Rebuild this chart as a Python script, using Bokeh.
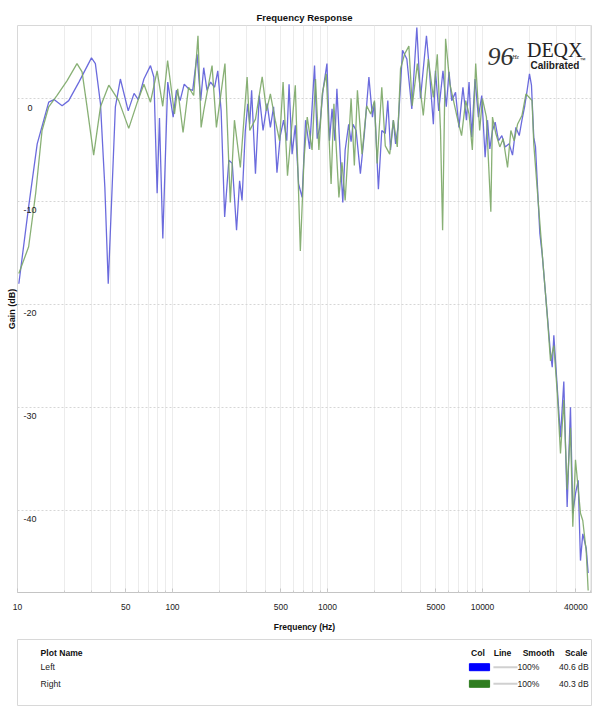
from bokeh.plotting import figure
from bokeh.layouts import column
from bokeh.models import Range1d, FixedTicker, NumeralTickFormatter, Title
from bokeh.core.properties import value
from bokeh.embed import file_html
from bokeh.resources import INLINE

# ---------------- data ----------------
freq_left = [10.2, 11.8, 13.4, 15.9, 17.2, 19.4, 21.4, 24.9, 30.0, 31.8, 34.3, 36.6, 38.5, 40.8,
             42.8, 46.1, 51.8, 56.5, 60.1, 65.4, 72.1, 75.8, 79.6, 82.4, 86.6, 93.2, 101, 106,
             112, 119, 127, 135, 144, 152, 159, 167, 176, 187, 196, 206, 217, 231, 243, 259,
             271, 281, 295, 306, 315, 324, 343, 363, 384, 408, 428, 449, 472, 496, 521, 546,
             565, 591, 620, 651, 686, 722, 767, 825, 858, 891, 935, 992, 1030, 1070, 1115,
             1150, 1210, 1255, 1300, 1370, 1420, 1460, 1530, 1630, 1730, 1850, 1950, 2010,
             2130, 2240, 2360, 2450, 2550, 2660, 2750, 2850, 3050, 3250, 3500, 3770, 3980,
             4350, 4510, 4820, 4970, 5220, 5560, 5840, 6080, 6330, 6700, 7050, 7480, 7880,
             8190, 8520, 8950, 9410, 9890, 10400, 10770, 11150, 11600, 12070, 12690, 13330,
             14000, 14860, 15620, 16420, 17260, 17970, 18740, 19410, 20100, 20700, 21420,
             21980, 22870, 23440, 24270, 26140, 27470, 28180, 28860, 30340, 31860, 33470,
             35170, 36950, 38250, 39810, 41440, 42870, 44360, 46690, 48060]
gain_left = [-18.0, -10.5, -4.4, -0.35, -0.1, -0.7, -0.2, 1.6, 3.95, 3.4, -0.5, -8.6, -18.0, -8.6,
             -0.8, 1.9, -1.2, 0.5, -0.1, 1.9, 3.2, 2.1, -9.2, -1.9, -13.6, 1.6, -1.8, 0.8,
             -0.2, 1.4, 0.95, 0.8, 4.3, -0.2, 3.0, 0.8, 1.6, 1.1, 2.7, -1.2, -11.5, -6.0, -6.3, -12.8,
             -8.0, -9.9, -3.1, -0.5, -2.5, 0.8, -7.3, 0.3, -3.1, -0.5, -2.8, -0.8, -7.2, -3.6, -2.1, -4.1,
             1.4, -5.4, -2.6, -8.3, -9.6, -2.1, -4.9, 3.2, -3.9, -2.8, 0.8, 3.4, -4.1, -1.0, -4.1,
             0.95, -5.7, -10.1, -5.0, -2.5, -4.2, -2.5, -3.1, -7.3, -3.4, 2.1, -1.8, -0.35,
             -8.8, -3.1, -3.4, -0.2, -5.0, -2.1, -4.4, -2.8, 4.7, 3.85, -1.0, 6.9, 0.0,
             6.1, 3.4, -2.5, 2.7, -1.2, 2.7, -0.8, 2.6, -0.2, 0.6, -2.8, 1.1, -2.1,
             1.6, -3.75, 1.9, -1.8, 0.3, -5.7, -2.1, -4.9, -3.1, -2.3, -4.1, -3.6,
             -4.7, -4.4, -5.5, -2.8, -3.6, -2.1, -0.7, 0.8, 2.4, 1.3, -3.75,
             -4.7, -9.9, -13.1, -15.1, -20.9, -24.8, -26.1, -23.0, -28.0, -32.9, -27.5,
             -39.7, -30.0, -40.3, -38.4, -37.1, -44.9, -42.3, -43.7, -46.1]

freq_right = [10.2, 11.8, 13.1, 14.4, 15.9, 18.0, 20.9, 24.2, 26.1, 28.1, 31.0, 34.3, 38.8, 45.0,
              52.2, 59.3, 65.4, 72.1, 79.6, 86.5, 93, 103, 108, 117, 127, 137, 146, 153, 159,
              180, 192, 218, 236, 251, 274, 303, 315, 343, 379, 404, 428, 460, 491, 517, 552,
              620, 668, 705, 740, 795, 837, 880, 925, 982, 1055, 1100, 1185, 1240, 1300, 1370,
              1420, 1490, 1560, 1670, 1790, 1900, 2010, 2090, 2240, 2360, 2520, 2660, 2820,
              2960, 3140, 3350, 3520, 3800, 4150, 4470, 4820, 5110, 5360, 5530, 5780, 6160,
              6860, 7330, 7790, 8190, 8600, 9040, 9590, 9990, 10600, 11320, 11600, 12190,
              12940, 13590, 14510, 15240, 16010, 16830, 17970, 19080, 20040, 20870, 21420,
              22870, 24270, 26140, 27470, 28860, 30340, 31860, 33470, 35170, 36950, 38250,
              39810, 42870, 44360, 46690, 48060]
gain_right = [-17.0, -14.4, -9.2, -3.1, -0.8, 0.3, 1.75, 3.4, 2.6, -0.8, -5.5, -0.8, 1.3, -0.2,
              -2.9, -0.35, 1.4, -0.35, 2.7, -0.75, 3.7, -1.5, 0.95, -3.3, 1.1, 0.3, 6.1, -2.8, -1.2,
              3.2, -2.8, 3.4, -10.1, -2.1, -6.7, 2.1, -3.1, -2.0, 2.1, -1.2, 0.45, -2.1, -4.1, 1.6, -7.5,
              1.3, -14.8, -6.0, -1.8, -5.0, 1.9, -5.0, 0.45, 2.4, -8.3, -0.5, -9.6, -6.2, -9.9, -4.1,
              0.0, -6.5, 0.8, -5.4, -0.7, -1.5, -0.2, -6.3, 1.1, -4.6, -5.4, -2.1, -4.7,
              2.9, 4.3, 5.1, -0.7, 3.4, -1.65, 3.85, 0.1, 4.3, -3.1, -12.8, 5.8, 1.4,
              -1.8, -3.6, -0.2, -1.5, -5.0, 3.4, -3.1, 0.0, -1.8, -11.0, -1.8, -3.4,
              -4.7, -3.9, -6.7, -3.1, -4.1, -2.5, -1.65, 0.45, 0.1, -0.2, -4.4,
              -10.0, -15.0, -21.0, -25.5, -24.0, -28.5, -34.5, -29.3, -38.0, -32.0, -41.6,
              -35.1, -40.3, -41.0, -44.0, -47.8]

x_tick_values = [10, 50, 100, 500, 1000, 5000, 10000, 40000]
y_tick_values = [0, -10, -20, -30, -40]
y_tick_labels = ["0", "-10", "-20", "-30", "-40"]

legend_names = ["Left", "Right"]
legend_colors = ["#0000ff", "#2f7d20"]
legend_smooth = ["100%", "100%"]
legend_scale = ["40.6 dB", "40.3 dB"]
legend_headers = ["Col", "Line", "Smooth", "Scale"]

# ---------------- styling ----------------
SANS = "Liberation Sans"
W = 608
MAIN_H = 639
X_START, X_END = 10, 50500
Y_START, Y_END = -48.0, 7.1

p = figure(width=W, height=MAIN_H, x_axis_type="log",
           x_range=Range1d(X_START, X_END), y_range=Range1d(Y_START, Y_END),
           output_backend="svg", toolbar_location=None,
           min_border_left=17, min_border_right=17, min_border_top=25, min_border_bottom=47)
p.background_fill_color = "white"
p.border_fill_color = "white"
p.outline_line_color = "#d8d8d8"

p.title.text = "Frequency Response"
p.title.align = "center"
p.title.text_font = SANS
p.title.text_font_size = "9.5px"
p.title.text_font_style = "bold"
p.title.text_color = "#111111"
p.title.standoff = 6

p.add_layout(Title(text="Gain (dB)", align="center", text_font=SANS,
                   text_font_size="9px", text_font_style="bold",
                   text_color="#111111", standoff=2), "left")

grid_vals = [m * 10 ** d for d in range(1, 5) for m in range(1, 10)]
grid_vals = [g for g in grid_vals if g <= X_END]

p.xgrid.ticker = FixedTicker(ticks=grid_vals)
p.xgrid.grid_line_color = "#ececec"
p.ygrid.ticker = FixedTicker(ticks=y_tick_values)
p.ygrid.grid_line_color = "#d6d6d6"
p.ygrid.grid_line_dash = "2 2"

p.yaxis.visible = False

ax = p.xaxis[0]
ax.ticker = FixedTicker(ticks=x_tick_values, minor_ticks=grid_vals)
ax.formatter = NumeralTickFormatter(format="0")
ax.axis_line_color = "#c4c4c4"
ax.major_tick_line_color = "#c4c4c4"
ax.minor_tick_line_color = "#cccccc"
ax.major_tick_in = 4
ax.major_tick_out = 0
ax.minor_tick_in = 2
ax.minor_tick_out = 0
ax.major_label_text_font = SANS
ax.major_label_text_font_size = "8.5px"
ax.major_label_text_color = "#222222"
ax.major_label_standoff = 11
ax.axis_label = "Frequency (Hz)"
ax.axis_label_text_font = SANS
ax.axis_label_text_font_size = "8.5px"
ax.axis_label_text_font_style = "bold"
ax.axis_label_text_color = "#111111"
ax.axis_label_standoff = 9

# curves
p.line(freq_left, gain_left, line_color="#5b5bd9", line_width=1.3, line_alpha=0.9)
p.line(freq_right, gain_right, line_color="#7ba766", line_width=1.3, line_alpha=0.9)

# y tick labels drawn inside the frame
p.text(x=[X_START] * len(y_tick_values), y=y_tick_values, text=y_tick_labels,
       x_offset=12.5, y_offset=9, text_align="center", text_baseline="middle",
       text_font=value(SANS), text_font_size="9px", text_color="#222222")

# logo in the top right corner
p.text(x=[X_END], y=[Y_END], text=["96"], x_offset=-104, y_offset=31,
       text_align="left", text_baseline="alphabetic",
       text_font=value("Liberation Serif"), text_font_style="italic",
       text_font_size="26px", text_color="#333333")
p.text(x=[X_END], y=[Y_END], text=["kHz"], x_offset=-82, y_offset=31,
       text_align="left", text_baseline="alphabetic",
       text_font=value("Liberation Serif"), text_font_style="italic",
       text_font_size="6px", text_color="#333333")
p.text(x=[X_END], y=[Y_END], text=["DEQX"], x_offset=-9, y_offset=24,
       text_align="right", text_baseline="alphabetic",
       text_font=value("Liberation Serif"), text_font_size="20px", text_color="#222222")
p.text(x=[X_END], y=[Y_END], text=["Calibrated"], x_offset=-61, y_offset=40,
       text_align="left", text_baseline="alphabetic",
       text_font=value(SANS), text_font_style="bold",
       text_font_size="10px", text_color="#222222")
p.text(x=[X_END], y=[Y_END], text=["\u2122"], x_offset=-12, y_offset=34,
       text_align="left", text_baseline="alphabetic",
       text_font=value(SANS), text_font_size="6px", text_color="#222222")

# ---------------- legend panel ----------------
BOX_L, BOX_R = 8, 605
BOX_T, BOX_B = MAIN_H, 705
lg = figure(width=W, height=BOX_B - BOX_T + 1,
            x_range=Range1d(BOX_L, BOX_R), y_range=Range1d(BOX_B, BOX_T),
            output_backend="svg", toolbar_location=None,
            min_border_left=BOX_L, min_border_right=W - BOX_R, min_border_top=0, min_border_bottom=1)
lg.axis.visible = False
lg.grid.visible = False
lg.outline_line_color = "#d8d8d8"
lg.background_fill_color = "white"
lg.border_fill_color = "white"

row_y = [666.7, 683.3]
head_y = 652.3
lg.text(x=[32], y=[head_y], text=["Plot Name"], text_baseline="middle", text_align="left",
        text_font=value(SANS), text_font_size="8.6px", text_font_style="bold", text_color="#111111")
lg.text(x=[32] * 2, y=row_y, text=legend_names, text_baseline="middle", text_align="left",
        text_font=value(SANS), text_font_size="8.6px", text_color="#222222")
lg.text(x=[487, 512.5, 550, 589], y=[head_y] * 4, text=legend_headers,
        text_baseline="middle", text_align="center",
        text_font=value(SANS), text_font_size="8.6px", text_font_style="bold", text_color="#111111")
lg.quad(left=[478] * 2, right=[499] * 2, top=[y - 3.5 for y in row_y], bottom=[y + 3.5 for y in row_y],
        fill_color=legend_colors, line_color=legend_colors)
lg.segment(x0=[503] * 2, x1=[528] * 2, y0=row_y, y1=row_y, line_color="#d0d0d0", line_width=2)
lg.text(x=[528] * 2, y=row_y, text=legend_smooth, text_baseline="middle", text_align="left",
        text_font=value(SANS), text_font_size="8.6px", text_color="#222222")
lg.text(x=[602] * 2, y=row_y, text=legend_scale, text_baseline="middle", text_align="right",
        text_font=value(SANS), text_font_size="8.6px", text_color="#222222")

layout = column(p, lg, spacing=0)
open("out.html", "w").write(file_html(layout, INLINE))
